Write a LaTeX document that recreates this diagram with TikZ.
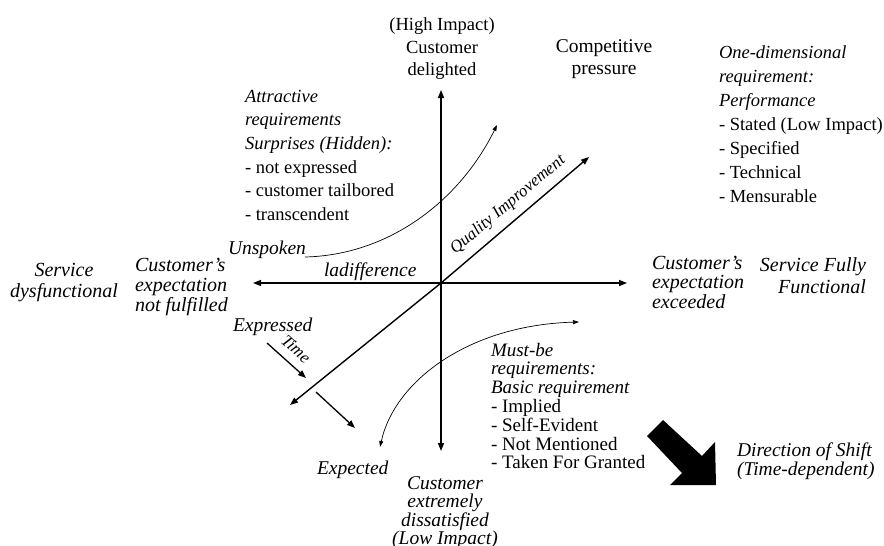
\documentclass[tikz,border=0pt]{standalone}
\usepackage{fontspec}
\setmainfont{Liberation Serif}
\usetikzlibrary{arrows.meta}
\begin{document}
\begin{tikzpicture}[x=1pt,y=-1pt,
  lbl/.style={inner sep=0pt, outer sep=0pt},
  axis/.style={line width=1.4pt, {Triangle[length=8pt,width=6pt]}-{Triangle[length=8pt,width=6pt]}},
  thinarrow/.style={line width=0.7pt, -{Triangle[length=6pt,width=4pt]}},
  twoway/.style={line width=0.7pt, {Triangle[length=6pt,width=4pt]}-{Triangle[length=6pt,width=4pt]}},
  timearrow/.style={line width=1.3pt, -{Triangle[length=8pt,width=6pt]}},
]
\useasboundingbox (0,0) rectangle (884,546);

% axes
\coordinate (O) at (441,283);
\coordinate (top) at (441,90);
\coordinate (bot) at (441,451);
\coordinate (lft) at (253,283);
\coordinate (rgt) at (627,283);
\coordinate (dl) at (290,405);
\coordinate (ur) at (589,157);
\draw[axis] (bot) -- (top);
\draw[axis] (lft) -- (rgt);
\draw[axis] (dl) -- (O) -- (ur);

% quality improvement label along the diagonal
\node[lbl, rotate=40, font=\fontsize{17}{17}\selectfont\itshape] (qi) at (508,205) {Quality Improvement};

% curves of the requirement categories
\coordinate (c1s) at (305,257);
\coordinate (c1e) at (497,125);
\draw[thinarrow] (c1s) .. controls (390,255) and (460,200) .. (c1e);
\coordinate (c2s) at (380,447);
\coordinate (c2e) at (579,322);
\draw[twoway] (c2s) .. controls (395,380) and (470,325) .. (c2e);

% time arrows
\coordinate (t1s) at (267,343);
\coordinate (t1e) at (306,378);
\coordinate (t2s) at (316,392);
\coordinate (t2e) at (355,428);
\draw[timearrow] (t1s) -- (t1e);
\draw[timearrow] (t2s) -- (t2e);
\node[lbl, rotate=-42, font=\fontsize{17}{17}\selectfont\itshape] (time) at (296,349) {Time};

% big arrow: direction of shift
\fill[black] (663,420) -- (702,456) -- (715,442) -- (716,485) -- (670,485) -- (682,473) -- (647,436) -- cycle;

% labels
\node[lbl, align=center, anchor=north, font=\fontsize{18.5}{22.5}\selectfont] (delight) at (442,18)
  {(High Impact)\\Customer\\delighted};
\node[lbl, align=center, anchor=north, font=\fontsize{19.5}{21.5}\selectfont] (comp) at (604,40)
  {Competitive\\pressure};
\node[lbl, align=left, anchor=north west, font=\fontsize{18.5}{24}\selectfont] (perf) at (719,46)
  {\textit{One-dimensional}\\\textit{requirement:}\\\textit{Performance}\\- Stated (Low Impact)\\- Specified\\- Technical\\- Mensurable};
\node[lbl, align=left, anchor=north west, font=\fontsize{18.5}{23.6}\selectfont] (attr) at (245,90)
  {\textit{Attractive}\\\textit{requirements}\\\textit{Surprises (Hidden):}\\- not expressed\\- customer tailbored\\- transcendent};
\node[lbl, anchor=west, font=\fontsize{19.5}{19.5}\selectfont\itshape] (unsp) at (228,250) {Unspoken};
\node[lbl, anchor=west, font=\fontsize{19.5}{19.5}\selectfont\itshape] (indiff) at (324,272) {ladifference};
\node[lbl, align=center, anchor=north, font=\fontsize{20}{21}\selectfont\itshape] (sdys) at (64,263)
  {Service\\dysfunctional};
\node[lbl, align=left, anchor=north west, font=\fontsize{20}{20}\selectfont\itshape] (cnf) at (135,258)
  {Customer's\\expectation\\not fulfilled};
\node[lbl, align=left, anchor=north west, font=\fontsize{20}{19.5}\selectfont\itshape] (cex) at (652,256)
  {Customer's\\expectation\\exceeded};
\node[lbl, align=right, anchor=north east, font=\fontsize{20}{22}\selectfont\itshape] (sff) at (866,258)
  {Service Fully\\Functional};
\node[lbl, anchor=west, font=\fontsize{19.5}{19.5}\selectfont\itshape] (expr) at (233,327) {Expressed};
\node[lbl, anchor=west, font=\fontsize{19.5}{19.5}\selectfont\itshape] (expc) at (317,470) {Expected};
\node[lbl, align=center, anchor=north, font=\fontsize{19.5}{17.8}\selectfont\itshape] (cxd) at (445,477)
  {Customer\\extremely\\dissatisfied\\(Low Impact)};
\node[lbl, align=left, anchor=north west, font=\fontsize{19}{18.8}\selectfont] (must) at (491,343)
  {\textit{Must-be}\\\textit{requirements:}\\\textit{Basic requirement}\\- Implied\\- Self-Evident\\- Not Mentioned\\- Taken For Granted};
\node[lbl, align=left, anchor=north west, font=\fontsize{19.5}{19}\selectfont\itshape] (dos) at (737,443)
  {Direction of Shift\\(Time-dependent)};
\end{tikzpicture}
\end{document}
